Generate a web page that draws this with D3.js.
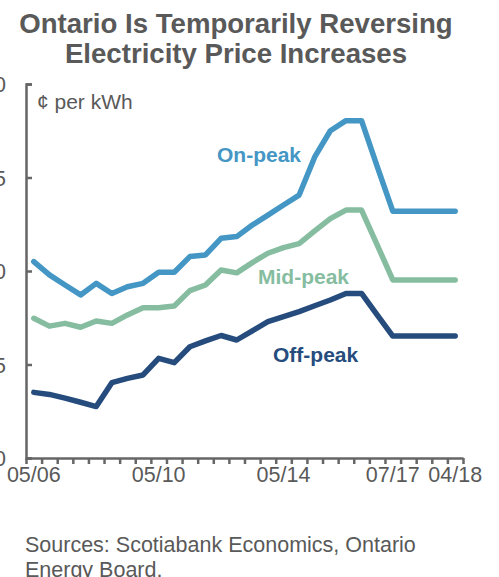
<!DOCTYPE html>
<html lang="en">
<head>
  <meta charset="UTF-8" />
  <title>Ontario electricity prices</title>
  <style>
    body {
      margin: 0;
      background: white;
      overflow: hidden;
    }
    svg {
      display: block;
      font-family: "Liberation Sans", Arial, sans-serif;
    }
    .axis path, .axis line {
      stroke: #666;
      stroke-width: 2.5;
    }
    .axis text {
      fill: #595959;
      font-size: 21.5px;
      font-family: "Liberation Sans", Arial, sans-serif;
    }
  </style>
</head>
<body>
<svg id="chart" width="499" height="577"></svg>
<script src="https://d3js.org/d3.v7.min.js"></script>
<script>
// semi-annual rate periods (May / Nov), then the 2017-18 changes
const periods = [
  "05/06", "11/06", "05/07", "11/07", "05/08", "11/08", "05/09", "11/09",
  "05/10", "11/10", "05/11", "11/11", "05/12", "11/12", "05/13", "11/13",
  "05/14", "11/14", "05/15", "11/15", "05/16", "11/16", "01/17", "07/17",
  "11/17", "01/18", "03/18", "04/18"
];
const tickLabels = ["05/06", "05/10", "05/14", "07/17", "04/18"];

const onPeak = [
  10.5, 9.79, 9.25, 8.72, 9.34, 8.8, 9.16, 9.34, 9.93, 9.93, 10.77, 10.86,
  11.75, 11.84, 12.46, 12.99, 13.53, 14.06, 16.1, 17.5, 18.04, 18.04, 15.6,
  13.2, 13.2, 13.2, 13.2, 13.2
];
const midPeak = [
  7.47, 7.05, 7.2, 6.99, 7.33, 7.2, 7.65, 8.04, 8.04, 8.13, 8.95, 9.25,
  10.05, 9.9, 10.45, 10.95, 11.25, 11.46, 12.14, 12.8, 13.26, 13.26, 11.4,
  9.52, 9.52, 9.52, 9.52, 9.52
];
const offPeak = [
  3.51, 3.4, 3.2, 2.98, 2.75, 4.03, 4.26, 4.44, 5.33, 5.1, 5.95, 6.26,
  6.55, 6.31, 6.8, 7.29, 7.56, 7.83, 8.14, 8.45, 8.8, 8.8, 7.65,
  6.52, 6.52, 6.52, 6.52, 6.52
];
const yTicks = [0, 5, 10, 15, 20];

const series = [
  { name: "On-peak", values: onPeak, color: "#4496c4", lx: 217, ly: 162 },
  { name: "Mid-peak", values: midPeak, color: "#86bda0", lx: 258, ly: 284 },
  { name: "Off-peak", values: offPeak, color: "#264c7d", lx: 273, ly: 362 }
];

const svg = d3.select("#chart");
const plotLeft = 26, plotRight = 463, plotTop = 84, plotBottom = 458;

const x = d3.scaleBand().domain(periods).range([plotLeft, plotRight]);
const xTick = d3.scaleLinear().domain([0, periods.length]).range([plotLeft, plotRight]);
const y = d3.scaleLinear().domain([0, 20]).range([plotBottom, plotTop]);

// title
svg.append("text")
  .attr("x", 236).attr("y", 33)
  .attr("text-anchor", "middle")
  .attr("fill", "#595959")
  .attr("font-size", 27.6).attr("font-weight", "bold")
  .text("Ontario Is Temporarily Reversing");
svg.append("text")
  .attr("x", 236).attr("y", 62.5)
  .attr("text-anchor", "middle")
  .attr("fill", "#595959")
  .attr("font-size", 27.6).attr("font-weight", "bold")
  .text("Electricity Price Increases");

// axes
svg.append("g")
  .attr("class", "axis")
  .attr("transform", `translate(${plotLeft},0)`)
  .call(d3.axisLeft(y).tickValues(yTicks).tickSizeInner(-6).tickSizeOuter(-6).tickPadding(20))
  .call(g => g.selectAll("text").attr("dy", "0.36em"));

svg.append("g")
  .attr("class", "axis")
  .attr("transform", `translate(0,${plotBottom})`)
  .call(d3.axisBottom(xTick).tickValues(d3.range(periods.length + 1))
    .tickFormat("").tickSizeInner(6).tickSizeOuter(0));

svg.append("g")
  .attr("class", "axis")
  .selectAll("text")
  .data(tickLabels)
  .join("text")
  .attr("x", d => x(d) + x.bandwidth() / 2)
  .attr("y", 482)
  .attr("text-anchor", "middle")
  .text(d => d);

svg.append("text")
  .attr("x", 37).attr("y", 108.5)
  .attr("fill", "#595959")
  .attr("font-size", 21)
  .text("¢ per kWh");

// lines
const line = d3.line()
  .x((d, i) => x(periods[i]) + x.bandwidth() / 2)
  .y(d => y(d));

svg.append("g")
  .selectAll("path")
  .data(series)
  .join("path")
  .attr("d", d => line(d.values))
  .attr("fill", "none")
  .attr("stroke", d => d.color)
  .attr("stroke-width", 5.5)
  .attr("stroke-linejoin", "round")
  .attr("stroke-linecap", "round");

svg.append("g")
  .selectAll("text")
  .data(series)
  .join("text")
  .attr("x", d => d.lx).attr("y", d => d.ly)
  .attr("fill", d => d.color)
  .attr("font-size", 21).attr("font-weight", "bold")
  .text(d => d.name);

// source note
svg.append("text")
  .attr("x", 25).attr("y", 551.5)
  .attr("fill", "#595959")
  .attr("font-size", 21.5)
  .text("Sources: Scotiabank Economics, Ontario");
svg.append("text")
  .attr("x", 25).attr("y", 577)
  .attr("fill", "#595959")
  .attr("font-size", 21.5)
  .text("Energy Board.");
</script>
</body>
</html>
